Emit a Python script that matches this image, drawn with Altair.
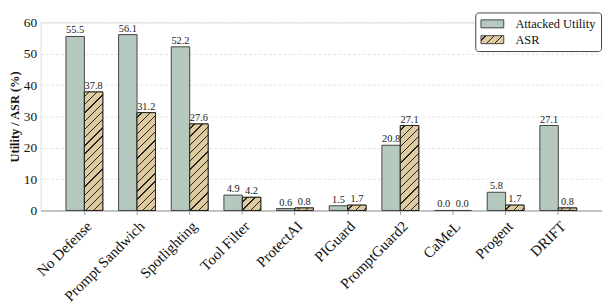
import altair as alt
import pandas as pd

# ---- data ----
CATEGORIES = ["No Defense", "Prompt Sandwich", "Spotlighting", "Tool Filter", "ProtectAI",
              "PIGuard", "PromptGuard2", "CaMeL", "Progent", "DRIFT"]
UTILITY = [55.5, 56.1, 52.2, 4.9, 0.6, 1.5, 20.8, 0.0, 5.8, 27.1]
ASR = [37.8, 31.2, 27.6, 4.2, 0.8, 1.7, 27.1, 0.0, 1.7, 0.8]
SERIES = ["Attacked Utility", "ASR"]

rows = []
for c, u, a in zip(CATEGORIES, UTILITY, ASR):
    rows.append({"cat": c, "series": SERIES[0], "value": u})
    rows.append({"cat": c, "series": SERIES[1], "value": a})
df = pd.DataFrame(rows)

# ---- style / layout ----
FONT = "Liberation Serif"
GREEN = "#b5c9be"
TAN = "#decba0"
EDGE = "#444444"
HATCH = "#222222"
PW, PH = 567, 190
YMAX = 60
P_IN, P_OUT = 0.3, 0.48
STEP = PW / (len(CATEGORIES) - P_IN + 2 * P_OUT)
BAR_W = STEP * (1 - P_IN) / 2
K = PH / YMAX
HP = 8.3   # hatch spacing (px, along x+y)
HT = 1.3   # hatch line thickness (px, along x+y)


def hatch_gradient(W, H, as_expr=False):
    tot = W + H
    stops = [(TAN, 0.0)]
    c = HP * 0.5
    while c < tot:
        a = c / tot
        b = min((c + HT) / tot, 1.0)
        stops += [(TAN, a), (HATCH, a), (HATCH, b), (TAN, b)]
        c += HP
    stops.append((TAN, 1.0))
    s = tot / (W * W + H * H)
    x2, y2 = W * s, H * s
    if as_expr:
        st = ",".join("{offset:%.5f,color:'%s'}" % (o, col) for col, o in stops)
        return "{gradient:'linear',x1:0,y1:0,x2:%.5f,y2:%.5f,stops:[%s]}" % (x2, y2, st)
    return alt.LinearGradient(
        gradient="linear", x1=0, y1=0, x2=x2, y2=y2,
        stops=[alt.GradientStop(color=col, offset=o) for col, o in stops],
    )


x_enc = alt.X("cat:N", sort=CATEGORIES, title=None,
              scale=alt.Scale(paddingInner=P_IN, paddingOuter=P_OUT),
              axis=alt.Axis(labelAngle=-45, labelAlign="right", labelBaseline="top",
                            labelFontSize=15, labelFont=FONT, labelColor="#111",
                            labelPadding=4, tickSize=4, tickColor="#999",
                            domainColor="#999", grid=False))
xo_enc = alt.XOffset("series:N", sort=SERIES, scale=alt.Scale(paddingInner=0, paddingOuter=0))
y_enc = alt.Y("value:Q", title="Utility / ASR (%)",
              scale=alt.Scale(domain=[0, YMAX], nice=False),
              axis=alt.Axis(values=list(range(0, 61, 10)), labelFontSize=13.5, labelFont=FONT,
                            labelColor="#111", labelPadding=4, ticks=False, domain=False,
                            titleFont=FONT, titleFontSize=12.5, titleFontWeight="bold",
                            titleColor="#111", titlePadding=2,
                            grid=True, gridDash=[3, 2], gridColor="#dddddd", gridWidth=0.8))

# legend symbol: 23x8 px rectangle whose layout size is only 11.5 px
SYM_R = 11.5
legend = alt.Legend(title=None, orient="none", legendX=439, legendY=-10,
                    symbolType="M-1,-0.7L3,-0.7L3,0.7L-1,0.7Z", symbolSize=SYM_R * SYM_R,
                    symbolStrokeColor=EDGE, symbolStrokeWidth=1,
                    labelFont=FONT, labelFontSize=12.5, labelColor="#111",
                    labelOffset=11 + 23 - SYM_R,
                    strokeColor=EDGE, fillColor="white", cornerRadius=3, padding=5,
                    rowPadding=3)

legend_hatch = {"expr": hatch_gradient(23, 8, as_expr=True)}

bars = alt.Chart(df).mark_bar(stroke=EDGE, strokeWidth=1).encode(
    x=x_enc, xOffset=xo_enc, y=y_enc,
    color=alt.Color("series:N", sort=SERIES,
                    scale=alt.Scale(domain=SERIES, range=[GREEN, legend_hatch]),
                    legend=legend),
)

hatch_layers = []
for c, a in zip(CATEGORIES, ASR):
    if a <= 0:
        continue
    g = hatch_gradient(BAR_W, a * K)
    hatch_layers.append(
        alt.Chart(df).transform_filter(
            (alt.datum.cat == c) & (alt.datum.series == SERIES[1])
        ).mark_bar(fill=g, stroke="#222222", strokeWidth=1).encode(
            x=x_enc, xOffset=xo_enc, y=y_enc)
    )

labels = alt.Chart(df).transform_calculate(
    label="format(datum.value, '.1f')"
).mark_text(baseline="bottom", dy=-1, fontSize=10.5, font=FONT, color="#1a1a1a").encode(
    x=x_enc, xOffset=xo_enc, y=y_enc, text="label:N")

chart = alt.layer(bars, *hatch_layers, labels).properties(
    width=PW, height=PH,
    padding={"left": 0, "top": 2, "right": 0, "bottom": 0},
).configure_view(stroke=None).configure(font=FONT)

chart.save("out.html", embed_options={"renderer": "svg", "actions": False})
